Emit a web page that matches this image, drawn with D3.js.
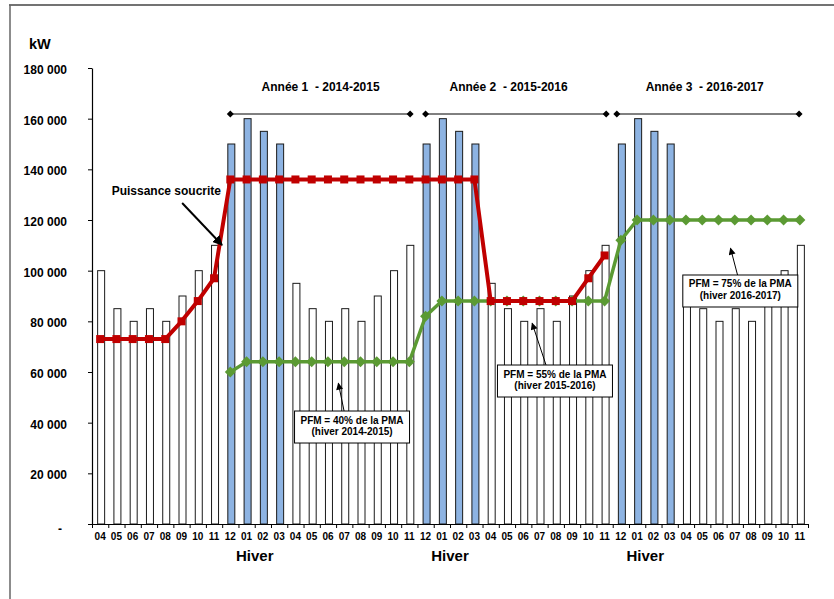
<!DOCTYPE html>
<html>
<head>
<meta charset="utf-8">
<script src="https://cdn.jsdelivr.net/npm/d3@7"></script>
<style>
  body { margin: 0; background: #fff; }
  svg { display: block; }
  text { font-family: "Liberation Sans", Arial, sans-serif; font-weight: bold; fill: #000; }
</style>
</head>
<body>
<svg id="chart" width="834" height="599"></svg>
<script>
// Months from April 2014 to November 2017
const months = ["04","05","06","07","08","09","10","11",
  "12","01","02","03","04","05","06","07","08","09","10","11",
  "12","01","02","03","04","05","06","07","08","09","10","11",
  "12","01","02","03","04","05","06","07","08","09","10","11"];
const winterMonths = ["12","01","02","03"];

// Monthly peak demand (kW)
const demand = [100000, 85000, 80000, 85000, 80000, 90000, 100000, 110000,
  150000, 160000, 155000, 150000, 95000, 85000, 80000, 85000, 80000, 90000, 100000, 110000,
  150000, 160000, 155000, 150000, 95000, 85000, 80000, 85000, 80000, 90000, 100000, 110000,
  150000, 160000, 155000, 150000, 95000, 85000, 80000, 85000, 80000, 90000, 100000, 110000];

// Subscribed power (kW), from month 0 to month 31
const subscribed = [73000, 73000, 73000, 73000, 73000, 80000, 88000, 97000,
  136000, 136000, 136000, 136000, 136000, 136000, 136000, 136000, 136000, 136000, 136000, 136000,
  136000, 136000, 136000, 136000, 88000, 88000, 88000, 88000, 88000, 88000, 97000, 106000];

// PFM (kW), from month 8 to month 43
const pfmStart = 8;
const pfm = [60000, 64000, 64000, 64000, 64000, 64000, 64000, 64000, 64000, 64000, 64000, 64000,
  82000, 88000, 88000, 88000, 88000, 88000, 88000, 88000, 88000, 88000, 88000, 88000,
  112000, 120000, 120000, 120000, 120000, 120000, 120000, 120000, 120000, 120000, 120000, 120000];

const yTicks = [0, 20000, 40000, 60000, 80000, 100000, 120000, 140000, 160000, 180000];

// Contract years: label, bracket start / end (month index), label centre (month index)
const yearNames = ["Année 1  - 2014-2015", "Année 2  - 2015-2016", "Année 3  - 2016-2017"];
const yearFrom = [8, 20, 31.75];
const yearTo = [19.05, 31.1, 42.95];
const yearLabelAt = [13.55, 25.1, 37.15];

// PFM callouts: box centre (month index), box top (kW), arrow tip (month index, kW)
const pfmLines1 = ["PFM = 40% de la PMA", "PFM = 55% de la PMA", "PFM = 75% de la PMA"];
const pfmLines2 = ["(hiver 2014-2015)", "(hiver 2015-2016)", "(hiver 2016-2017)"];
const boxAt = [15.48, 27.95, 39.34];
const boxTop = [44600, 62760, 98290];
const arrowBaseAt = [14.99, 27.4, 39.17];
const arrowTipAt = [14.64, 26.55, 38.74];
const arrowTipVal = [55540, 79230, 108830];

const colors = { winter: "#8db3e2", other: "#ffffff", red: "#c00000", green: "#5b9a33" };

const svg = d3.select("#chart");

const x = d3.scaleBand().domain(d3.range(months.length)).range([92, 808]).padding(0);
const xEdge = d3.scaleLinear().domain([0, months.length]).range([92, 808]);
const cx = i => xEdge(i + 0.5);
const y = d3.scaleLinear().domain([0, 180000]).range([524, 68]);

// Outer frame (top and left edges)
svg.append("line").attr("x1", 9).attr("x2", 834).attr("y1", 5).attr("y2", 5)
  .attr("stroke", "#444").attr("stroke-width", 1.5);
svg.append("line").attr("x1", 10).attr("x2", 10).attr("y1", 5).attr("y2", 599)
  .attr("stroke", "#666").attr("stroke-width", 1.5);

// Unit
svg.append("text").attr("x", 29).attr("y", 49).style("font-size", "14.5px").text("kW");

// Bars
const barW = 7;
svg.append("g").selectAll("rect").data(demand).join("rect")
  .attr("x", (d, i) => x(i) + x.bandwidth() / 2 - barW / 2 + 1)
  .attr("width", barW)
  .attr("y", d => y(d))
  .attr("height", d => y(0) - y(d))
  .attr("fill", (d, i) => winterMonths.includes(months[i]) ? colors.winter : colors.other)
  .attr("stroke", "#1a1a1a").attr("stroke-width", 1);

// Y axis
const yAxis = svg.append("g").attr("transform", "translate(92,0)")
  .call(d3.axisLeft(y).tickValues(yTicks).tickSize(4).tickSizeOuter(0).tickPadding(21)
    .tickFormat(d => d === 0 ? "-" : d3.format(",")(d).replace(/,/g, " ")));
yAxis.select(".domain").attr("stroke", "#000").attr("stroke-width", 1.2);
yAxis.selectAll(".tick line").attr("stroke", "#000");
yAxis.selectAll(".tick text").style("font-size", "12px").style("font-family", null)
  .attr("dy", "0.45em").attr("fill", "#000");
yAxis.selectAll(".tick text").filter(d => d === 0).attr("dx", "-5").attr("dy", "0.7em");

// X axis: boundary ticks
const xTicks = svg.append("g").attr("transform", "translate(0,524)")
  .call(d3.axisBottom(xEdge).tickValues(d3.range(months.length + 1)).tickSize(4).tickSizeOuter(0).tickFormat(""));
xTicks.select(".domain").attr("stroke", "#000").attr("stroke-width", 1.2);
xTicks.selectAll(".tick line").attr("stroke", "#000");

// X axis: month labels
const xLabels = svg.append("g").attr("transform", "translate(0,524)")
  .call(d3.axisBottom(x).tickSize(0).tickPadding(9).tickFormat(i => months[i]));
xLabels.select(".domain").remove();
xLabels.selectAll(".tick text").style("font-size", "10px").style("font-family", null).attr("fill", "#000");

// "Hiver" under each winter group
const winterStarts = months.map((m, i) => i).filter(i => months[i] === "12");
svg.append("g").selectAll("text").data(winterStarts).join("text")
  .attr("x", i => cx(i + 1.5)).attr("y", 560.5).attr("text-anchor", "middle")
  .style("font-size", "15px").text("Hiver");

// PFM line
const pfmPts = pfm.map((v, k) => ({ i: k + pfmStart, v }));
const line = d3.line().x(d => cx(d.i)).y(d => y(d.v));
svg.append("path").datum(pfmPts).attr("d", line)
  .attr("fill", "none").attr("stroke", colors.green).attr("stroke-width", 3.5).attr("stroke-linejoin", "round");
svg.append("g").selectAll("path").data(pfmPts).join("path")
  .attr("transform", d => `translate(${cx(d.i)},${y(d.v)})`)
  .attr("d", "M0,-5.5L5.5,0L0,5.5L-5.5,0Z").attr("fill", colors.green);

// Subscribed power line
const subPts = subscribed.map((v, i) => ({ i, v }));
svg.append("path").datum(subPts).attr("d", line)
  .attr("fill", "none").attr("stroke", colors.red).attr("stroke-width", 4).attr("stroke-linejoin", "round");
svg.append("g").selectAll("rect").data(subPts).join("rect")
  .attr("x", d => cx(d.i) - 4).attr("y", d => y(d.v) - 4)
  .attr("width", 8).attr("height", 8).attr("fill", colors.red);

// Arrowheads
const defs = svg.append("defs");
defs.append("marker").attr("id", "headBig").attr("viewBox", "0 0 10 10")
  .attr("refX", 9).attr("refY", 5).attr("markerWidth", 5).attr("markerHeight", 5)
  .attr("markerUnits", "strokeWidth").attr("orient", "auto")
  .append("path").attr("d", "M0,0L10,5L0,10Z").attr("fill", "#000");
defs.append("marker").attr("id", "headSmall").attr("viewBox", "0 0 10 10")
  .attr("refX", 9).attr("refY", 5).attr("markerWidth", 9).attr("markerHeight", 7)
  .attr("markerUnits", "strokeWidth").attr("orient", "auto")
  .append("path").attr("d", "M0,0L10,5L0,10Z").attr("fill", "#000");

// Subscribed power label and arrow
svg.append("text").attr("x", cx(7.43)).attr("y", y(129700)).attr("text-anchor", "end")
  .style("font-size", "12px").text("Puissance soucrite");
svg.append("line")
  .attr("x1", cx(5.04)).attr("y1", y(126700)).attr("x2", cx(7.49)).attr("y2", y(110130))
  .attr("stroke", "#000").attr("stroke-width", 2).attr("marker-end", "url(#headBig)");

// Contract-year brackets
const brackets = svg.append("g");
yearNames.forEach((name, k) => {
  const by = y(161840);
  brackets.append("line").attr("x1", cx(yearFrom[k])).attr("x2", cx(yearTo[k]))
    .attr("y1", by).attr("y2", by).attr("stroke", "#000").attr("stroke-width", 1);
  [yearFrom[k], yearTo[k]].forEach(i => {
    brackets.append("path").attr("transform", `translate(${cx(i)},${by})`)
      .attr("d", "M0,-3.5L3.5,0L0,3.5L-3.5,0Z").attr("fill", "#000");
  });
  brackets.append("text").attr("x", cx(yearLabelAt[k])).attr("y", y(170920))
    .attr("text-anchor", "middle").style("font-size", "12px").style("white-space", "pre")
    .attr("xml:space", "preserve").text(name);
});

// PFM callout boxes
const boxW = 115, boxH = 32;
pfmLines1.forEach((t1, k) => {
  const bx = cx(boxAt[k]), by = y(boxTop[k]);
  svg.append("line").attr("x1", cx(arrowBaseAt[k])).attr("y1", by)
    .attr("x2", cx(arrowTipAt[k])).attr("y2", y(arrowTipVal[k]))
    .attr("stroke", "#000").attr("stroke-width", 1).attr("marker-end", "url(#headSmall)");
  svg.append("rect").attr("x", bx - boxW / 2).attr("y", by).attr("width", boxW).attr("height", boxH)
    .attr("fill", "#fff").attr("stroke", "#000").attr("stroke-width", 1);
  svg.append("text").attr("x", bx).attr("y", by + 12.5).attr("text-anchor", "middle")
    .style("font-size", "10px").text(t1);
  svg.append("text").attr("x", bx).attr("y", by + 24).attr("text-anchor", "middle")
    .style("font-size", "10px").text(pfmLines2[k]);
});
</script>
</body>
</html>
